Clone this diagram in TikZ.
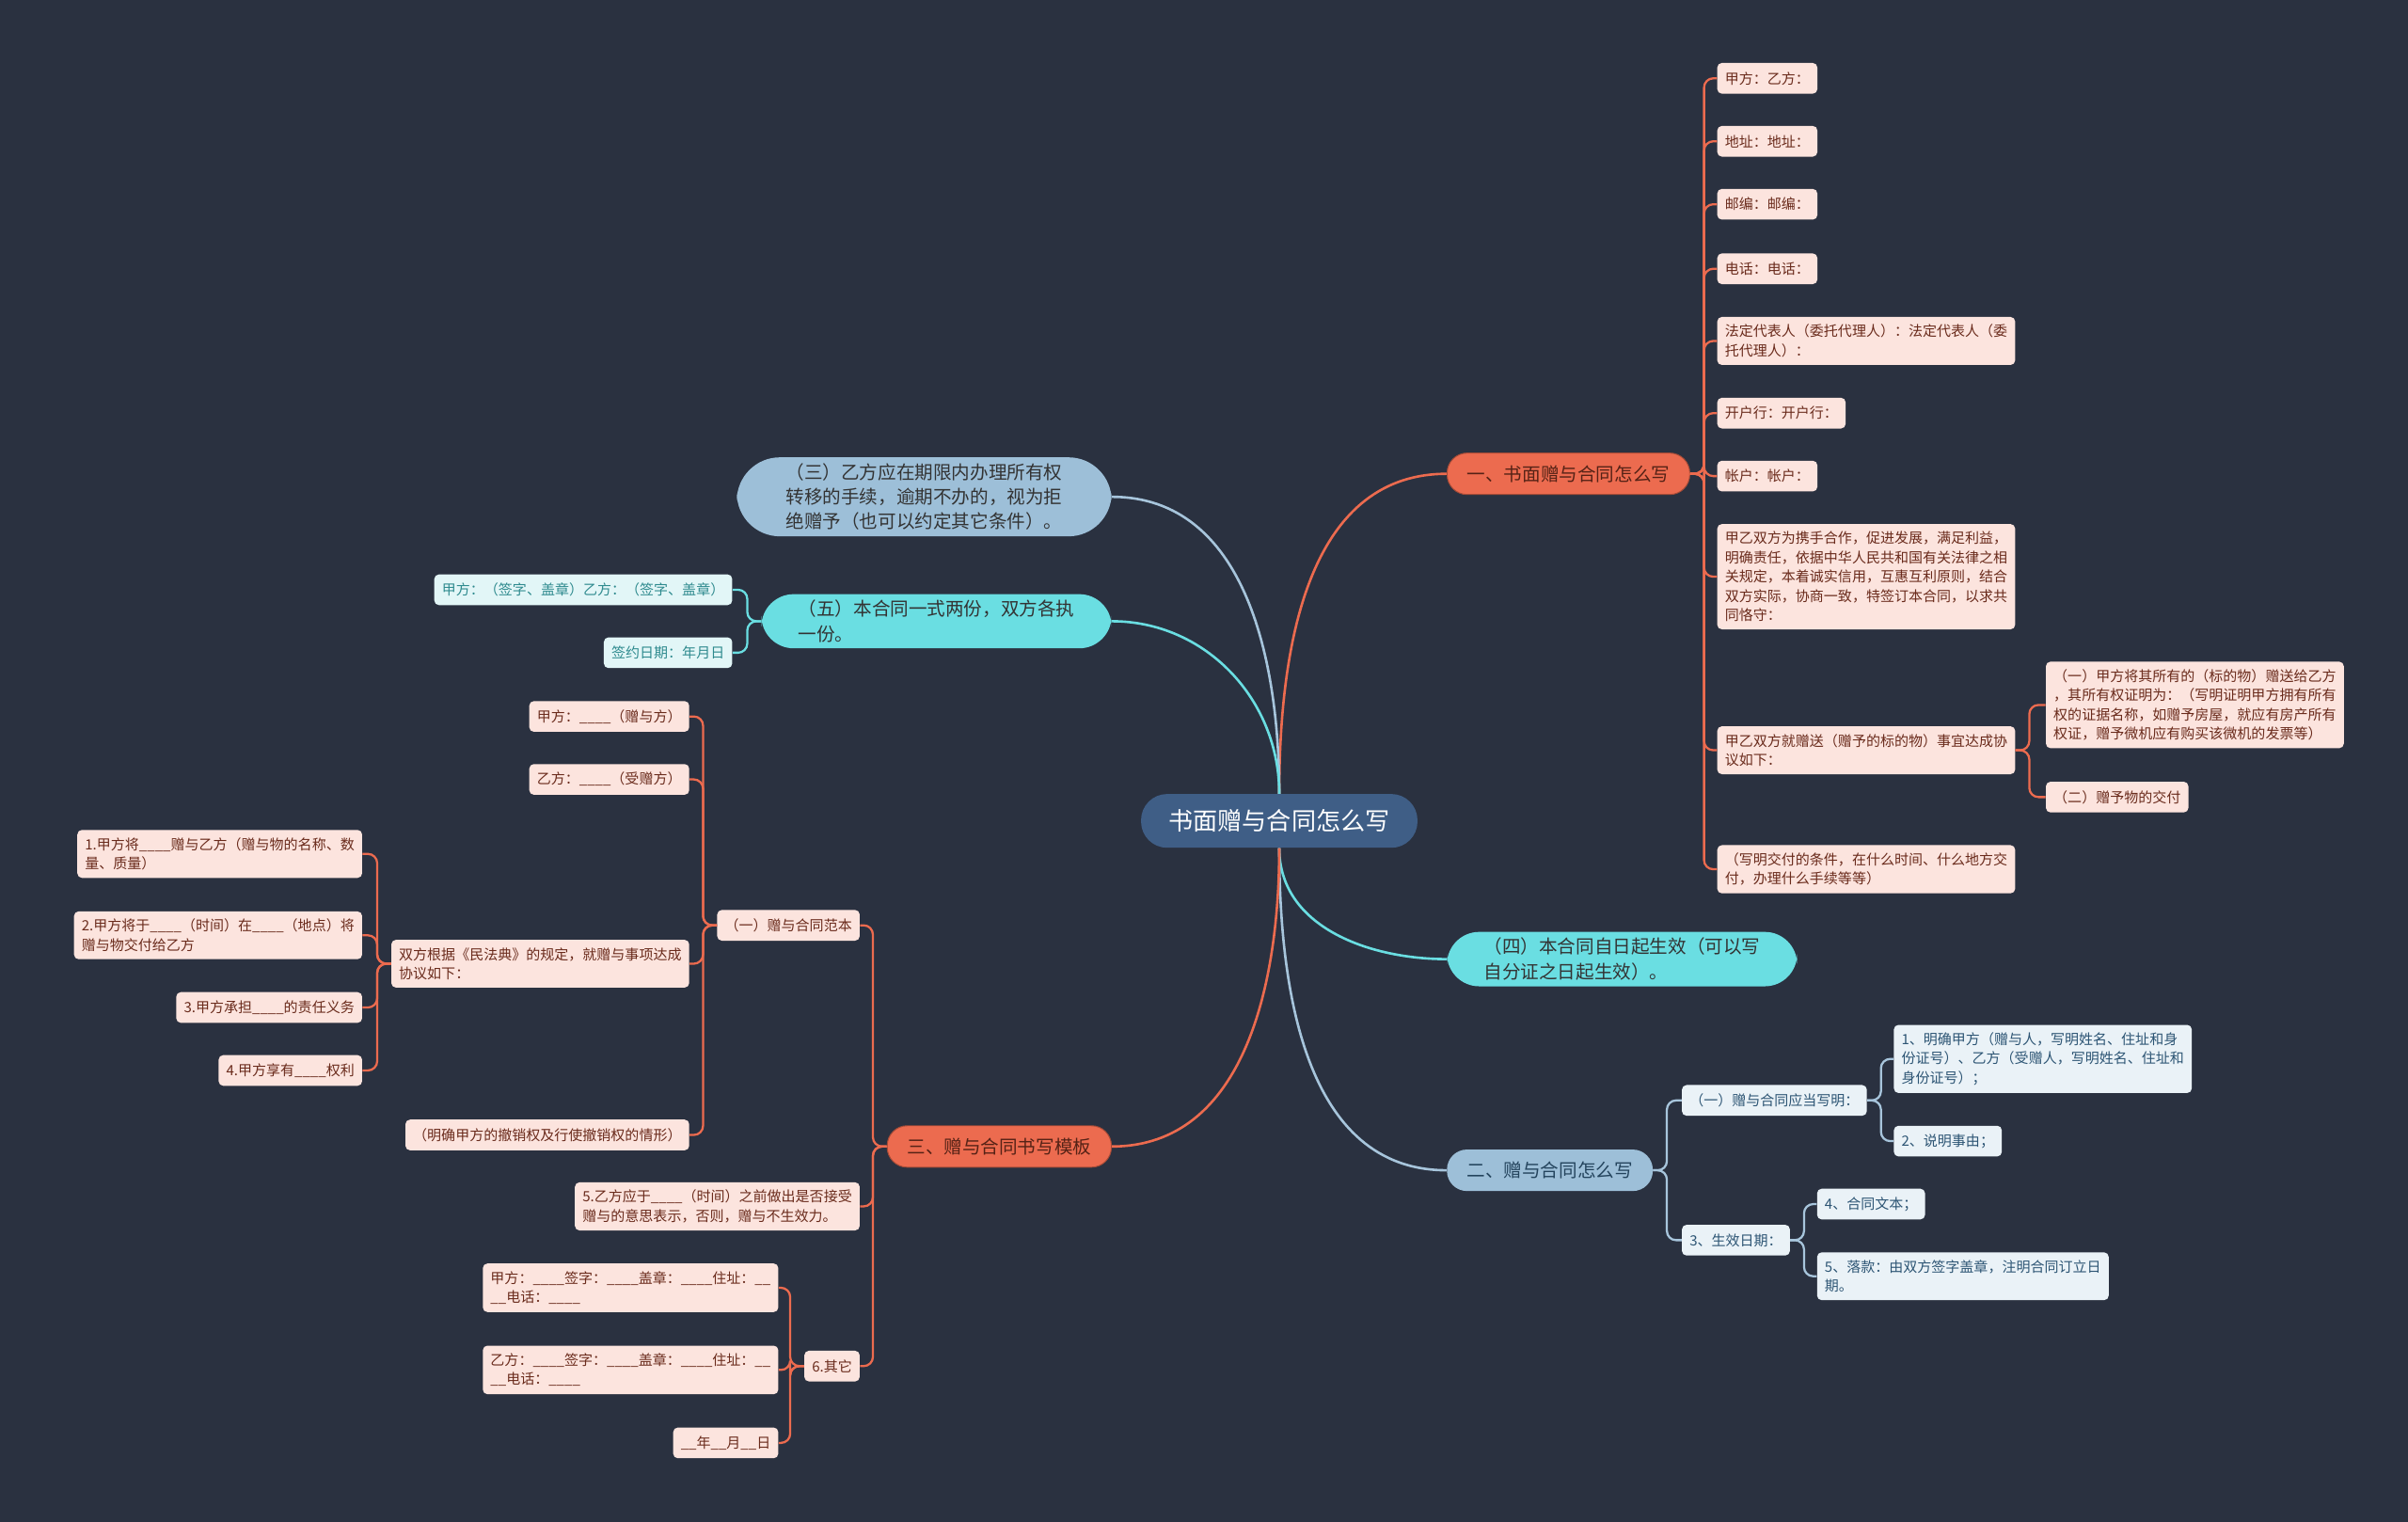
\documentclass[tikz,border=0pt]{standalone}
\usepackage{fontspec}
\setmainfont{Noto Sans CJK SC}
\usepackage{xcolor}
\definecolor{bgc}{HTML}{2A3140}
\definecolor{rootc}{HTML}{3F5E86}
\definecolor{coral}{HTML}{EC6B4F}
\definecolor{pale}{HTML}{9DBFD8}
\definecolor{cyanb}{HTML}{6ADEE2}
\definecolor{pfill}{HTML}{FCE4DE}
\definecolor{ptext}{HTML}{6A2B1C}
\definecolor{bfill}{HTML}{EAF2F7}
\definecolor{btext}{HTML}{2D5574}
\definecolor{cfill}{HTML}{E2F6F7}
\definecolor{ctext}{HTML}{2E8A8E}

\begin{document}
\begin{tikzpicture}[
  x=1pt,y=-1pt,
  root/.style={fill=rootc,text=white,rounded corners=17pt,minimum height=35pt,inner xsep=18pt,font=\fontsize{16}{20}\selectfont},
  branch/.style={rounded corners=13pt,minimum height=27pt,inner xsep=13pt,inner ysep=4pt,align=left,font=\fontsize{12}{16}\selectfont},
  obranch/.style={branch,fill=coral,draw=coral!70!black,line width=0.6pt,text=ptext!80!black},
  pbranch/.style={branch,fill=pale,text=btext!80!black},
  cbranch/.style={branch,fill=cyanb,text=black!80,inner xsep=24pt,rounded corners=21pt},
  bigbranch/.style={branch,fill=pale,text=black!80,inner xsep=32pt,rounded corners=28pt},
  leaf/.style={rounded corners=3pt,inner xsep=5pt,inner ysep=5pt,minimum height=20pt,align=left,font=\fontsize{9.2}{12.5}\selectfont},
  oleaf/.style={leaf,fill=pfill,text=ptext},
  bleaf/.style={leaf,fill=bfill,text=btext},
  cleaf/.style={leaf,fill=cfill,text=ctext},
  omain/.style={draw=coral,line width=1.6pt},
  pmain/.style={draw=pale!90!white,line width=1.6pt},
  cmain/.style={draw=cyanb,line width=1.6pt},
  olink/.style={draw=coral,line width=1.4pt,rounded corners=6pt},
  plink/.style={draw=pale!90!white,line width=1.4pt,rounded corners=6pt},
  clink/.style={draw=cyanb,line width=1.4pt,rounded corners=6pt}
]
  \fill[bgc] (0,0) rectangle (1568,991);
  \useasboundingbox (0,0) rectangle (1568,991);

  \node[root] (root) at (833,534.5) {书面赠与合同怎么写};

  \node[obranch,anchor=west] (b1) at (942,308.5) {一、书面赠与合同怎么写};
  \node[pbranch,anchor=west] (b2) at (942,762) {二、赠与合同怎么写};
  \node[obranch,anchor=east] (b3) at (724,746.5) {三、赠与合同书写模板};
  \node[cbranch,anchor=west] (b4) at (942,624.5) {（四）本合同自日起生效（可以写\\自分证之日起生效）。};
  \node[cbranch,anchor=east] (b5) at (724,404.5) {（五）本合同一式两份，双方各执\\一份。};
  \node[bigbranch,anchor=east] (b6) at (724,323.5) {（三）乙方应在期限内办理所有权\\转移的手续，逾期不办的，视为拒\\绝赠予（也可以约定其它条件）。};

  \node[oleaf,anchor=west] (c11) at (1118,51) {甲方：乙方：};
  \node[oleaf,anchor=west] (c12) at (1118,92) {地址：地址：};
  \node[oleaf,anchor=west] (c13) at (1118,133) {邮编：邮编：};
  \node[oleaf,anchor=west] (c14) at (1118,175) {电话：电话：};
  \node[oleaf,anchor=west] (c15) at (1118,222) {法定代表人（委托代理人）：法定代表人（委\\托代理人）：};
  \node[oleaf,anchor=west] (c16) at (1118,269) {开户行：开户行：};
  \node[oleaf,anchor=west] (c17) at (1118,310) {帐户：帐户：};
  \node[oleaf,anchor=west] (c18) at (1118,375.5) {甲乙双方为携手合作，促进发展，满足利益，\\明确责任，依据中华人民共和国有关法律之相\\关规定，本着诚实信用，互惠互利原则，结合\\双方实际，协商一致，特签订本合同，以求共\\同恪守：};
  \node[oleaf,anchor=west] (c19) at (1118,488.5) {甲乙双方就赠送（赠予的标的物）事宜达成协\\议如下：};
  \node[oleaf,anchor=west] (c110) at (1118,566) {（写明交付的条件，在什么时间、什么地方交\\付，办理什么手续等等）};
  \node[oleaf,anchor=west] (c191) at (1332,459) {（一）甲方将其所有的（标的物）赠送给乙方\\，其所有权证明为：（写明证明甲方拥有所有\\权的证据名称，如赠予房屋，就应有房产所有\\权证，赠予微机应有购买该微机的发票等）};
  \node[oleaf,anchor=west] (c192) at (1332,519) {（二）赠予物的交付};

  \node[bleaf,anchor=west] (c21) at (1095,716.5) {（一）赠与合同应当写明：};
  \node[bleaf,anchor=west] (c211) at (1233,689.5) {1、明确甲方（赠与人，写明姓名、住址和身\\份证号）、乙方（受赠人，写明姓名、住址和\\身份证号）；};
  \node[bleaf,anchor=west] (c212) at (1233,743) {2、说明事由；};
  \node[bleaf,anchor=west] (c22) at (1095,807.5) {3、生效日期：};
  \node[bleaf,anchor=west] (c221) at (1183,784) {4、合同文本；};
  \node[bleaf,anchor=west] (c222) at (1183,831) {5、落款：由双方签字盖章，注明合同订立日\\期。};

  \node[cleaf,anchor=east] (c51) at (477,384) {甲方：（签字、盖章）乙方：（签字、盖章）};
  \node[cleaf,anchor=east] (c52) at (477,425) {签约日期：年月日};

  \node[oleaf,anchor=east] (c31) at (560,602.5) {（一）赠与合同范本};
  \node[oleaf,anchor=east] (c32) at (560,785.5) {5.乙方应于\_\_\_\_（时间）之前做出是否接受\\赠与的意思表示，否则，赠与不生效力。};
  \node[oleaf,anchor=east] (c33) at (560,889.5) {6.其它};
  \node[oleaf,anchor=east] (c311) at (449,466.5) {甲方：\_\_\_\_（赠与方）};
  \node[oleaf,anchor=east] (c312) at (449,507.5) {乙方：\_\_\_\_（受赠方）};
  \node[oleaf,anchor=east] (c313) at (449,627.5) {双方根据《民法典》的规定，就赠与事项达成\\协议如下：};
  \node[oleaf,anchor=east] (c314) at (449,739) {（明确甲方的撤销权及行使撤销权的情形）};
  \node[oleaf,anchor=east] (c3131) at (236,556) {1.甲方将\_\_\_\_赠与乙方（赠与物的名称、数\\量、质量）};
  \node[oleaf,anchor=east] (c3132) at (236,609) {2.甲方将于\_\_\_\_（时间）在\_\_\_\_（地点）将\\赠与物交付给乙方};
  \node[oleaf,anchor=east] (c3133) at (236,656) {3.甲方承担\_\_\_\_的责任义务};
  \node[oleaf,anchor=east] (c3134) at (236,697) {4.甲方享有\_\_\_\_权利};
  \node[oleaf,anchor=east] (c331) at (507,838.5) {甲方：\_\_\_\_签字：\_\_\_\_盖章：\_\_\_\_住址：\_\_\\\_\_电话：\_\_\_\_};
  \node[oleaf,anchor=east] (c332) at (507,892) {乙方：\_\_\_\_签字：\_\_\_\_盖章：\_\_\_\_住址：\_\_\\\_\_电话：\_\_\_\_};
  \node[oleaf,anchor=east] (c333) at (507,939.5) {\_\_年\_\_月\_\_日};

  \draw[omain] (root.north) to[out=90,in=180] (b1.west);
  \draw[pmain] (root.north) to[out=90,in=0] (b6.east);
  \draw[cmain] (root.north) to[out=90,in=0] (b5.east);
  \draw[cmain] (root.south) to[out=-90,in=180] (b4.west);
  \draw[pmain] (root.south) to[out=-90,in=180] (b2.west);
  \draw[omain] (root.south) to[out=-90,in=0] (b3.east);

  \draw[olink] (b1.east) -- ++(9,0) |- (c11.west);
  \draw[olink] (b1.east) -- ++(9,0) |- (c12.west);
  \draw[olink] (b1.east) -- ++(9,0) |- (c13.west);
  \draw[olink] (b1.east) -- ++(9,0) |- (c14.west);
  \draw[olink] (b1.east) -- ++(9,0) |- (c15.west);
  \draw[olink] (b1.east) -- ++(9,0) |- (c16.west);
  \draw[olink] (b1.east) -- ++(9,0) |- (c17.west);
  \draw[olink] (b1.east) -- ++(9,0) |- (c18.west);
  \draw[olink] (b1.east) -- ++(9,0) |- (c19.west);
  \draw[olink] (b1.east) -- ++(9,0) |- (c110.west);
  \draw[olink] (c19.east) -- ++(9,0) |- (c191.west);
  \draw[olink] (c19.east) -- ++(9,0) |- (c192.west);

  \draw[plink] (b2.east) -- ++(9,0) |- (c21.west);
  \draw[plink] (b2.east) -- ++(9,0) |- (c22.west);
  \draw[plink] (c21.east) -- ++(9,0) |- (c211.west);
  \draw[plink] (c21.east) -- ++(9,0) |- (c212.west);
  \draw[plink] (c22.east) -- ++(9,0) |- (c221.west);
  \draw[plink] (c22.east) -- ++(9,0) |- (c222.west);

  \draw[clink] (b5.west) -- ++(-9,0) |- (c51.east);
  \draw[clink] (b5.west) -- ++(-9,0) |- (c52.east);

  \draw[olink] (b3.west) -- ++(-9,0) |- (c31.east);
  \draw[olink] (b3.west) -- ++(-9,0) |- (c32.east);
  \draw[olink] (b3.west) -- ++(-9,0) |- (c33.east);
  \draw[olink] (c31.west) -- ++(-9,0) |- (c311.east);
  \draw[olink] (c31.west) -- ++(-9,0) |- (c312.east);
  \draw[olink] (c31.west) -- ++(-9,0) |- (c313.east);
  \draw[olink] (c31.west) -- ++(-9,0) |- (c314.east);
  \draw[olink] (c313.west) -- ++(-9,0) |- (c3131.east);
  \draw[olink] (c313.west) -- ++(-9,0) |- (c3132.east);
  \draw[olink] (c313.west) -- ++(-9,0) |- (c3133.east);
  \draw[olink] (c313.west) -- ++(-9,0) |- (c3134.east);
  \draw[olink] (c33.west) -- ++(-9,0) |- (c331.east);
  \draw[olink] (c33.west) -- ++(-9,0) |- (c332.east);
  \draw[olink] (c33.west) -- ++(-9,0) |- (c333.east);
\end{tikzpicture}
\end{document}
